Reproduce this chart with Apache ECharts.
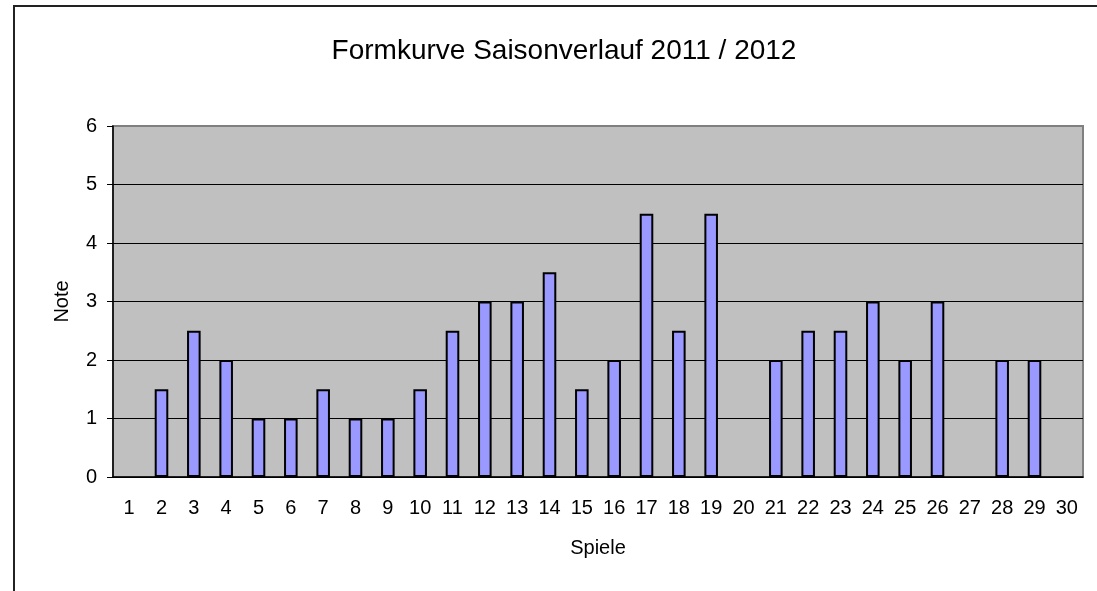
<!DOCTYPE html>
<html lang="de">

<head>
    <meta charset="UTF-8">
    <title>Formkurve Saisonverlauf 2011 / 2012</title>
    <style>
        html, body { margin: 0; padding: 0; background: #fff; }
        #main { width: 1097px; height: 591px; }
    </style>
</head>

<body>
    <div id="main"></div>
</body>
<script src="https://cdn.jsdelivr.net/npm/echarts@6/dist/echarts.min.js"></script>
<script>
    // Spiele 1..30, Note pro Spiel (null = kein Einsatz)
    const spiele = ['1', '2', '3', '4', '5', '6', '7', '8', '9', '10',
        '11', '12', '13', '14', '15', '16', '17', '18', '19', '20',
        '21', '22', '23', '24', '25', '26', '27', '28', '29', '30'];
    const noten = [null, 1.5, 2.5, 2, 1, 1, 1.5, 1, 1, 1.5,
        2.5, 3, 3, 3.5, 1.5, 2, 4.5, 2.5, 4.5, null,
        2, 2.5, 2.5, 3, 2, 3, null, 2, 2, null];
    const yTicks = [0, 1, 2, 3, 4, 5, 6];

    const font = 'Liberation Sans, Arial, sans-serif';

    const chart = echarts.init(document.getElementById('main'));
    chart.setOption({
        animation: false,
        backgroundColor: '#fff',
        title: {
            text: 'Formkurve Saisonverlauf 2011 / 2012',
            left: 564,
            top: 37,
            padding: 0,
            textAlign: 'center',
            textStyle: { fontFamily: font, fontSize: 28, fontWeight: 'normal', color: '#000' }
        },
        graphic: [{
            type: 'rect',
            shape: { x: 14, y: 6, width: 1200, height: 700 },
            style: { fill: 'none', stroke: '#222', lineWidth: 2 },
            silent: true,
            z: 100
        }],
        grid: {
            left: 113,
            top: 126,
            right: 14,
            bottom: 114,
            show: true,
            backgroundColor: '#C0C0C0',
            borderColor: '#808080',
            borderWidth: 2
        },
        xAxis: {
            type: 'category',
            data: spiele,
            boundaryGap: true,
            name: 'Spiele',
            nameLocation: 'middle',
            nameGap: 61,
            nameTextStyle: { fontFamily: font, fontSize: 20, color: '#000' },
            axisLine: { lineStyle: { color: '#000', width: 1.5 } },
            axisTick: { length: 6, lineStyle: { color: '#000' } },
            axisLabel: { fontFamily: font, fontSize: 20, color: '#000', margin: 21 },
            splitLine: { show: false }
        },
        yAxis: {
            type: 'value',
            min: yTicks[0],
            max: yTicks[yTicks.length - 1],
            interval: 1,
            name: 'Note',
            nameLocation: 'middle',
            nameGap: 41,
            nameTextStyle: { fontFamily: font, fontSize: 20, color: '#000' },
            axisLine: { show: true, lineStyle: { color: '#000', width: 1.5 } },
            axisTick: { show: true, length: 6, lineStyle: { color: '#000' } },
            axisLabel: { fontFamily: font, fontSize: 20, color: '#000', margin: 16 },
            splitLine: {
                lineStyle: {
                    color: ['#000', '#000', '#000', '#000', '#000', '#000', '#808080'],
                    width: 1
                }
            }
        },
        series: [{
            type: 'bar',
            data: noten,
            barWidth: '42%',
            itemStyle: { color: '#9999FF', borderColor: '#000', borderWidth: 2 }
        }]
    });
</script>

</html>
